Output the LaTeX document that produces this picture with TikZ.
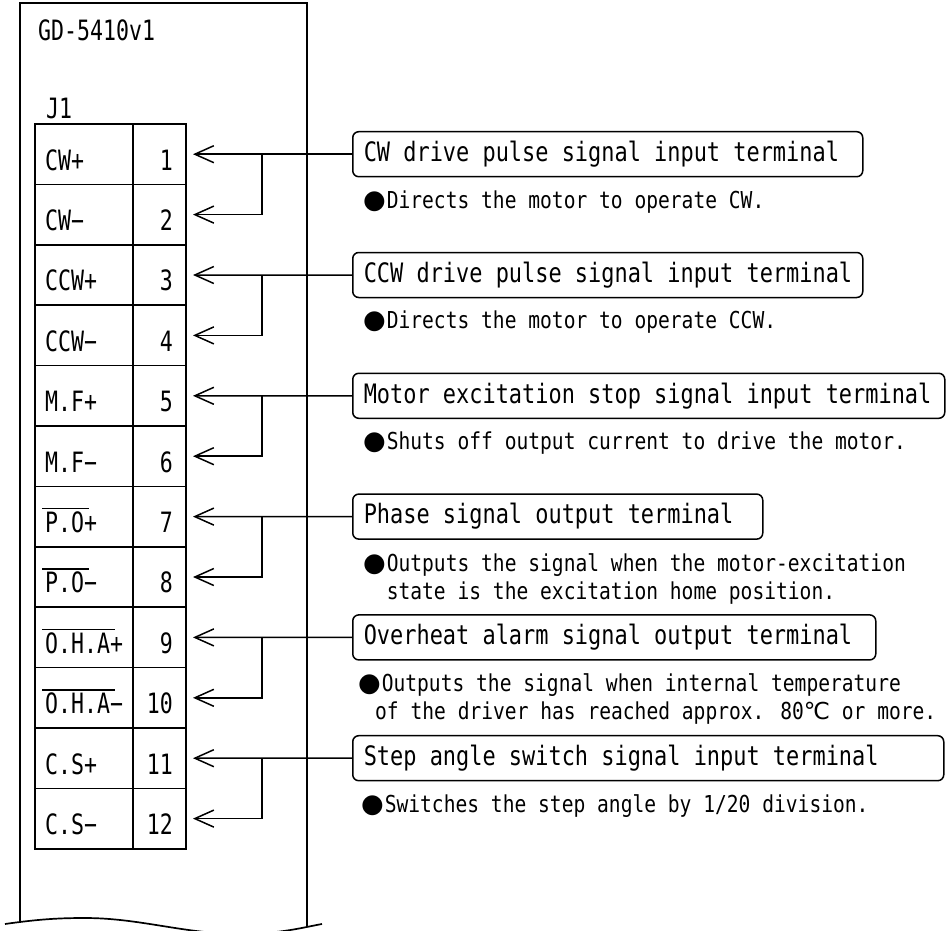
\documentclass[tikz,border=0pt]{standalone}
\usepackage{fontspec}
\usetikzlibrary{arrows.meta}
\newfontfamily\jTabFam[FakeStretch=0.77]{DejaVu Sans Mono}
\newfontfamily\jBoxFam[FakeStretch=0.82]{DejaVu Sans Mono}
\newfontfamily\jDescFam[FakeStretch=0.84]{DejaVu Sans Mono}
\newfontfamily\jSymFam{DejaVu Sans}
\newcommand\jTab{\jTabFam\fontsize{28}{30}\selectfont}
\newcommand\jBox{\jBoxFam\fontsize{26.74}{30}\selectfont}
\newcommand\jDesc{\jDescFam\fontsize{23.33}{28}\selectfont}
\newcommand\jBlt{\makebox[23.6pt][l]{\jSymFam\fontsize{26}{26}\selectfont ●}}
\newcommand\jDeg{{\jSymFam ℃}}
\newcommand\jOvl[1]{\setbox0\hbox{#1}\rlap{\kern-3pt\rule[23pt]{\dimexpr\wd0+8pt\relax}{1.6pt}}\box0}
\begin{document}
\begin{tikzpicture}[x=1pt,y=-1pt,
  frameline/.style={line width=1.7pt},
  gridline/.style={line width=1.5pt},
  pinarrow/.style={line width=1.5pt,-{Straight Barb[length=19pt,width=17pt,line width=1.5pt]}},
  callout/.style={draw,line width=1.5pt,rounded corners=6pt,anchor=west,minimum height=45pt,inner xsep=11pt,inner ysep=0pt,font=\jBox},
  desc/.style={anchor=base west,inner sep=0pt,align=left,font=\jDesc},
  lab/.style={anchor=base west,inner sep=0pt,font=\jTab},
  num/.style={anchor=base east,inner sep=0pt,font=\jTab}]
\useasboundingbox (0,0) rectangle (946,930);
% outer frame
\draw[frameline] (20,922) -- (20,3) -- (307,3) -- (307,927);
\draw[frameline] (5,924) .. controls (40,919) and (60,918) .. (85,918) .. controls (140,918) and (185,934) .. (240,934) .. controls (280,934) and (305,927) .. (322,924);
\node[lab] (title) at (38,40) {GD-5410v1};
\node[lab] (jone) at (46,118) {J1};
% table
\draw[gridline] (35,124) rectangle (186,848.8);
\draw[gridline] (133,124) -- (133,848.8);
\foreach \k in {1,...,11} {\draw[gridline] (35,124+\k*60.4) -- (186,124+\k*60.4);}
\foreach \i/\l in {1/CW+,2/CW−,3/CCW+,4/CCW−,5/M.F+,6/M.F−,7/{\jOvl{P.O}+},8/{\jOvl{P.O}−},9/{\jOvl{O.H.A}+},10/{\jOvl{O.H.A}−},11/C.S+,12/C.S−} {
  \pgfmathsetmacro\yb{124+(\i-1)*60.4+46}
  \pgfmathsetmacro\yc{124+(\i-1)*60.4+30.2}
  \node[lab] (l\i) at (45,\yb) {\l};
  \node[num] (n\i) at (173,\yb) {\i};
  \coordinate (t\i) at (193,\yc);
}
\coordinate (jx) at (262,0);
% callout boxes
\node[callout] (b1) at (352,154.2) {\makebox[488pt][l]{CW drive pulse signal input terminal}};
\node[callout] (b2) at (352,275.0) {\makebox[488pt][l]{CCW drive pulse signal input terminal}};
\node[callout] (b3) at (352,395.8) {\makebox[570pt][l]{Motor excitation stop signal input terminal}};
\node[callout] (b4) at (352,516.6) {\makebox[388pt][l]{Phase signal output terminal}};
\node[callout] (b5) at (352,637.4) {\makebox[501pt][l]{Overheat alarm signal output terminal}};
\node[callout] (b6) at (352,758.2) {\makebox[569pt][l]{Step angle switch signal input terminal}};
% connectors
\foreach \k/\a/\b in {1/1/2,2/3/4,3/5/6,4/7/8,5/9/10,6/11/12} {
  \draw[pinarrow] (b\k.west) -- (t\a);
  \draw[pinarrow] (b\k.west -| jx) |- (t\b);
}
% descriptions
\node[desc] (d1) at (363,208) {\jBlt Directs the motor to operate CW.};
\node[desc] (d2) at (363,328.5) {\jBlt Directs the motor to operate CCW.};
\node[desc] (d3) at (363,449) {\jBlt Shuts off output current to drive the motor.};
\node[desc] (d4) at (363,599) {\jBlt Outputs the signal when the motor-excitation\\\hspace*{23.6pt}state is the excitation home position.};
\node[desc] (d5) at (358,719) {\jBlt Outputs the signal when internal temperature\\\hspace*{17pt}of the driver has reached approx. 80\jDeg{} or more.};
\node[desc] (d6) at (361,812) {\jBlt Switches the step angle by 1/20 division.};
\end{tikzpicture}
\end{document}
